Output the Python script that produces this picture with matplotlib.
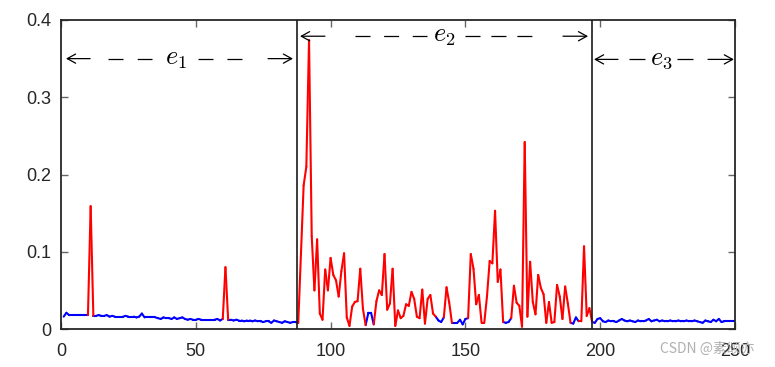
import numpy as np
import matplotlib
matplotlib.use("Agg")
import matplotlib.pyplot as plt
from matplotlib.collections import LineCollection

# ---------------- data ----------------
# region e1 : samples 1..87
values_e1 = [0.016, 0.021, 0.018, 0.018, 0.018, 0.018, 0.018, 0.018, 0.018, 0.018,
             0.159, 0.017, 0.017, 0.018, 0.017, 0.017, 0.018, 0.016, 0.017, 0.016,
             0.016, 0.016, 0.016, 0.017, 0.016, 0.016, 0.016, 0.015, 0.016, 0.020,
             0.015, 0.015, 0.015, 0.015, 0.015, 0.014, 0.013, 0.015, 0.014, 0.014,
             0.013, 0.015, 0.013, 0.014, 0.015, 0.013, 0.012, 0.013, 0.012, 0.012,
             0.013, 0.012, 0.012, 0.012, 0.012, 0.012, 0.012, 0.013, 0.011, 0.013,
             0.080, 0.012, 0.012, 0.011, 0.012, 0.011, 0.011, 0.010, 0.011, 0.011,
             0.010, 0.011, 0.010, 0.010, 0.009, 0.010, 0.010, 0.008, 0.011, 0.010,
             0.009, 0.008, 0.010, 0.009, 0.008, 0.009, 0.009]
# region e2 : samples 88..197
values_e2 = [0.008, 0.097, 0.186, 0.210, 0.374, 0.120, 0.050, 0.116, 0.020, 0.012,
             0.077, 0.050, 0.092, 0.070, 0.063, 0.042, 0.075, 0.098, 0.015, 0.004,
             0.029, 0.035, 0.036, 0.078, 0.026, 0.005, 0.021, 0.021, 0.006, 0.036,
             0.050, 0.044, 0.097, 0.025, 0.033, 0.078, 0.004, 0.024, 0.014, 0.017,
             0.032, 0.030, 0.048, 0.039, 0.016, 0.014, 0.051, 0.007, 0.039, 0.044,
             0.020, 0.016, 0.011, 0.009, 0.015, 0.054, 0.034, 0.008, 0.008, 0.008,
             0.012, 0.006, 0.013, 0.014, 0.097, 0.078, 0.032, 0.044, 0.008, 0.008,
             0.042, 0.088, 0.085, 0.153, 0.061, 0.077, 0.009, 0.008, 0.009, 0.014,
             0.056, 0.034, 0.030, 0.003, 0.242, 0.016, 0.087, 0.035, 0.019, 0.070,
             0.053, 0.045, 0.008, 0.035, 0.008, 0.009, 0.057, 0.042, 0.013, 0.055,
             0.033, 0.008, 0.007, 0.015, 0.010, 0.010, 0.107, 0.017, 0.027, 0.009]
# region e3 : samples 198..250
values_e3 = [0.008, 0.013, 0.014, 0.010, 0.009, 0.011, 0.010, 0.010, 0.009, 0.011,
             0.013, 0.011, 0.010, 0.011, 0.010, 0.009, 0.011, 0.010, 0.010, 0.011,
             0.013, 0.010, 0.011, 0.012, 0.010, 0.011, 0.010, 0.010, 0.011, 0.010,
             0.010, 0.011, 0.010, 0.010, 0.011, 0.010, 0.010, 0.011, 0.010, 0.009,
             0.008, 0.011, 0.010, 0.009, 0.012, 0.010, 0.013, 0.009, 0.010, 0.010,
             0.010, 0.010, 0.010]

# samples flagged as anomalous (drawn in red)
anomaly_idx = ([11, 61] + list(range(89, 113)) + list(range(117, 139)) + [143, 144]
               + list(range(152, 164)) + list(range(168, 189)) + list(range(193, 197)))

# region boundaries and labels
boundaries = [87.5, 197]
region_labels = [r"$e_1$", r"$e_2$", r"$e_3$"]
label_x = [42.7, 142.1, 222.7]
label_y = [0.350, 0.379, 0.349]
arrow_left = [(1.85, 10.8), (88.65, 97.9), (197.7, 206.6)]      # (head, shaft end)
arrow_right = [(86.05, 76.8), (195.5, 186.2), (249.6, 240.0)]   # (head, shaft start)
dash_left = [(17.4, 33.8, 2), (109.0, 135.8, 3), (210.7, 216.6, 1)]   # (start, end, n dashes)
dash_right = [(50.8, 67.1, 2), (149.9, 174.7, 3), (228.5, 234.4, 1)]

x_ticks = [0, 50, 100, 150, 200, 250]
y_ticks = [0, 0.1, 0.2, 0.3, 0.4]
y_ticklabels = ["0", "0.1", "0.2", "0.3", "0.4"]

# ---------------- figure ----------------
plt.rcParams["font.family"] = ["Liberation Sans", "DejaVu Sans"]
plt.rcParams["mathtext.fontset"] = "cm"

W, H, DPI = 7.75, 3.67, 100
fig = plt.figure(figsize=(W, H), dpi=DPI)
ax = fig.add_axes([61 / 775, 1 - 329 / 367, (735 - 61) / 775, (329 - 20) / 367])
ax.set_xlim(0, 250)
ax.set_ylim(0, 0.4)

values = np.array(values_e1 + values_e2 + values_e3)
x = np.arange(1, len(values) + 1)
is_anom = np.isin(x, anomaly_idx)

pts = np.column_stack([x, values])
segs = np.stack([pts[:-1], pts[1:]], axis=1)
seg_red = is_anom[:-1] | is_anom[1:]
blue = LineCollection(segs[~seg_red], colors="#0000ff", linewidths=1.5, capstyle="round", joinstyle="round")
red = LineCollection(segs[seg_red], colors="#ff0000", linewidths=1.5, capstyle="round", joinstyle="round")
ax.add_collection(blue)
ax.add_collection(red)

for b in boundaries:
    ax.axvline(b, color="#1a1a1a", lw=1.2, zorder=3)

# data units -> points along x
pts_per_unit = (735 - 61) / 250 * 72 / DPI
LW = 0.9


def dashed(x0, x1, n, yy):
    if n <= 1:
        ax.plot([x0, x1], [yy, yy], color="black", lw=LW, solid_capstyle="butt")
        return
    L = (x1 - x0) * pts_per_unit
    dash = 15 * 72 / DPI
    gap = (L - n * dash) / (n - 1)
    ax.plot([x0, x1], [yy, yy], color="black", lw=LW, ls=(0, (dash / LW, gap / LW)),
            dash_capstyle="butt")


hp = dict(arrowstyle="->,head_length=0.6,head_width=0.33", lw=LW, color="black",
          shrinkA=0, shrinkB=0)
for i in range(3):
    yy = label_y[i]
    ax.annotate("", xy=(arrow_left[i][0], yy), xytext=(arrow_left[i][1], yy), arrowprops=hp)
    ax.annotate("", xy=(arrow_right[i][0], yy), xytext=(arrow_right[i][1], yy), arrowprops=hp)
    dashed(dash_left[i][0], dash_left[i][1], dash_left[i][2], yy)
    dashed(dash_right[i][0], dash_right[i][1], dash_right[i][2], yy)
    ax.text(label_x[i], yy, region_labels[i], fontsize=19, ha="center", va="center", color="black")

ax.set_xticks(x_ticks)
ax.set_xticklabels([str(t) for t in x_ticks])
ax.set_yticks(y_ticks)
ax.set_yticklabels(y_ticklabels)
ax.tick_params(direction="in", top=True, right=True, length=5, width=1,
               color="#666666", labelsize=13, labelcolor="#262626")
ax.tick_params(axis="x", pad=10)
ax.tick_params(axis="y", pad=7)
for sp in ax.spines.values():
    sp.set_linewidth(1.3)
    sp.set_color("#262626")

fig.text(660 / 775, 1 - 349 / 367, "CSDN @素颂亦", fontsize=10, color="#b0b0b0",
         family=["Noto Sans CJK SC", "DejaVu Sans"], ha="left", va="center")

fig.savefig("out.png", dpi=DPI)
